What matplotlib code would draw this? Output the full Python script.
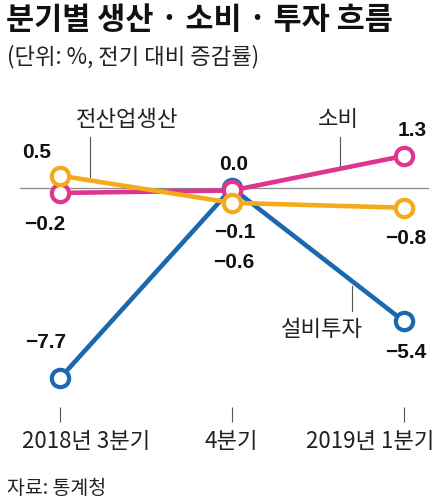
import matplotlib
matplotlib.use("Agg")
from matplotlib import pyplot as plt

# 데이터 (단위: %, 전기 대비 증감률)
quarters = ["2018년 3분기", "4분기", "2019년 1분기"]
investment = [-7.7, 0.0, -5.4]   # 설비투자
consumption = [-0.2, -0.1, 1.3]  # 소비
production = [0.5, -0.6, -0.8]   # 전산업생산

BLUE = "#1a68b0"
PINK = "#e0358f"
ORANGE = "#f5aa1c"

W, H = 442, 504
KR = ["Noto Sans CJK KR", "DejaVu Sans"]
NUM = ["Liberation Sans", "DejaVu Sans"]

fig = plt.figure(figsize=(W / 100, H / 100), dpi=100)
ax = fig.add_axes([0, 0, 1, 1])

# pixel -> data mapping: categories at x=60,232,404 ; zero at y=188, 24.7 px per unit
px_x = 172.0
px_y = 24.7
ax.set_xlim(-60 / px_x, 2 + (W - 404) / px_x)
ax.set_ylim(-(H - 188) / px_y, 188 / px_y)
ax.axis("off")

xs = list(range(len(quarters)))

def fpos(x, y):
    # 픽셀 좌표 -> figure 비율
    return x / W, 1 - y / H

# 기준선 (0)
ax.plot([-40 / px_x, 2 + 24 / px_x], [0, 0], color="#8a8a8a", lw=0.9, zorder=1)

line_kw = dict(lw=3.3, marker="o", ms=12.5, mew=3.0, mfc="white", solid_capstyle="round")
ax.plot(xs, investment, color=BLUE, zorder=3, **line_kw)
ax.plot(xs, consumption, color=PINK, zorder=4, **line_kw)
ax.plot(xs, production, color=ORANGE, zorder=5, **line_kw)

# 카테고리 눈금
ax.vlines(xs, -(407 - 188) / px_y, -(422 - 188) / px_y, color="#555555", lw=0.8)
label_x = [86, 231, 370]
for lab, lx in zip(quarters, label_x):
    fx, fy = fpos(lx, 441)
    fig.text(fx, fy, lab, ha="center", va="center", fontsize=16, family=KR, color="#222222")

# 값 라벨
def fmt(v):
    return ("−" if v < 0 else "") + "%.1f" % abs(v)

value_pos = {
    "investment": [(46, 343), (234, 164), (406, 352)],
    "consumption": [(45, 225), (235, 233), (412, 130)],
    "production": [(37, 152), (234, 262), (406, 239)],
}
for name, vals in [("investment", investment), ("consumption", consumption), ("production", production)]:
    for v, (lx, ly) in zip(vals, value_pos[name]):
        fx, fy = fpos(lx, ly)
        fig.text(fx, fy, fmt(v), ha="center", va="center", fontsize=15,
                 fontweight="bold", family=NUM, color="#111111")

# 계열 이름 + 지시선
series_names = [("전산업생산", 127, 119, 90, 137, 177),
                ("소비", 338, 119, 340, 137, 166),
                ("설비투자", 322, 330, 352, 286, 311)]
for name, tx, ty, lx, y0, y1 in series_names:
    fx, fy = fpos(tx, ty)
    fig.text(fx, fy, name, ha="center", va="center", fontsize=16, family=KR, color="#222222")
    a, b = fpos(lx, y0)
    _, c = fpos(lx, y1)
    fig.add_artist(plt.Line2D([a, a], [b, c], color="#555555", lw=0.8))

# 제목, 부제, 출처
fx, fy = fpos(6, 20)
fig.text(fx, fy, "분기별 생산 · 소비 · 투자 흐름", ha="left", va="center",
         fontsize=22, fontweight="bold", family=KR, color="#111111")
fx, fy = fpos(7, 57)
fig.text(fx, fy, "(단위: %, 전기 대비 증감률)", ha="left", va="center",
         fontsize=16, family=KR, color="#222222")
fx, fy = fpos(7, 488)
fig.text(fx, fy, "자료: 통계청", ha="left", va="center",
         fontsize=14, family=KR, color="#222222")

fig.savefig("out.png", dpi=100, facecolor="white")
